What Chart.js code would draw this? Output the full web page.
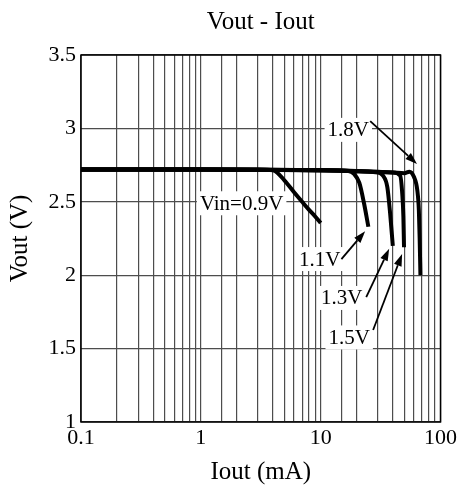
<!DOCTYPE html>
<html>
<head>
<meta charset="utf-8">
<title>Vout - Iout</title>
<script src="https://cdn.jsdelivr.net/npm/chart.js@4.4.1/dist/chart.umd.min.js"></script>
<style>
  html, body { margin: 0; padding: 0; background: #fff; }
  canvas { display: block; }
</style>
</head>
<body>
<canvas id="chart" width="460" height="488"></canvas>
<script>
// Iout (mA) and Vout (V), one pair per input voltage
const iout09 = [0.1, 1, 3, 4, 5, 6, 7, 8, 9, 10];
const vout09 = [2.72, 2.72, 2.72, 2.715, 2.645, 2.565, 2.5, 2.445, 2.4, 2.355];
const iout11 = [0.1, 1, 10, 17, 19, 21, 23, 25];
const vout11 = [2.72, 2.72, 2.715, 2.71, 2.69, 2.63, 2.49, 2.33];
const iout13 = [0.1, 1, 10, 30, 33, 36, 38, 40];
const vout13 = [2.72, 2.72, 2.715, 2.70, 2.68, 2.60, 2.42, 2.20];
const iout15 = [0.1, 1, 10, 40, 46, 48, 49, 49.6];
const vout15 = [2.72, 2.72, 2.715, 2.70, 2.68, 2.55, 2.40, 2.19];
const iout18 = [0.1, 1, 10, 40, 50, 55, 60, 64, 66, 67, 68];
const vout18 = [2.72, 2.72, 2.715, 2.70, 2.695, 2.705, 2.67, 2.58, 2.44, 2.25, 2.0];

const seriesNames = ['0.9V', '1.1V', '1.3V', '1.5V', '1.8V'];
const seriesX = [iout09, iout11, iout13, iout15, iout18];
const seriesY = [vout09, vout11, vout13, vout15, vout18];

// curve labels (mA, V)
const labelText = ['Vin=0.9V', '1.1V', '1.3V', '1.5V', '1.8V'];
const labelX = [2.19, 9.8, 14.96, 17.3, 17.0];
const labelY = [2.49, 2.11, 1.845, 1.576, 2.99];

// arrows from label to curve (mA, V)
const arrowFromX = [14.9, 24.0, 27.4, 25.9];
const arrowFromY = [2.11, 1.85, 1.627, 3.05];
const arrowToX = [23.5, 37.3, 47.8, 63.7];
const arrowToY = [2.30, 2.18, 2.144, 2.757];

const serif = '"Liberation Serif", "Times New Roman", serif';

const datasets = seriesNames.map((name, i) => ({
  label: name,
  data: seriesX[i].map((v, j) => ({ x: v, y: seriesY[i][j] })),
  borderColor: '#000',
  borderWidth: 4,
  pointRadius: 0,
  cubicInterpolationMode: 'monotone',
  fill: false
}));

function drawArrow(ctx, x1, y1, x2, y2) {
  const ang = Math.atan2(y2 - y1, x2 - x1);
  const len = 12, half = 4;
  const bx = x2 - len * Math.cos(ang), by = y2 - len * Math.sin(ang);
  ctx.beginPath();
  ctx.moveTo(x1, y1);
  ctx.lineTo(bx, by);
  ctx.stroke();
  ctx.beginPath();
  ctx.moveTo(x2, y2);
  ctx.lineTo(bx + half * Math.sin(ang), by - half * Math.cos(ang));
  ctx.lineTo(bx - half * Math.sin(ang), by + half * Math.cos(ang));
  ctx.closePath();
  ctx.fill();
}

// labels, arrows, frame and title
const notes = {
  id: 'notes',
  beforeDatasetsDraw(chart) {
    const { ctx, scales: { x, y } } = chart;
    ctx.save();
    ctx.font = '21px ' + serif;
    ctx.textAlign = 'center';
    ctx.textBaseline = 'middle';
    labelText.forEach((t, i) => {
      const px = x.getPixelForValue(labelX[i]);
      const py = y.getPixelForValue(labelY[i]);
      const w = ctx.measureText(t).width + 6;
      ctx.fillStyle = '#fff';
      ctx.fillRect(px - w / 2, py - 12, w, 24);
      ctx.fillStyle = '#000';
      ctx.fillText(t, px, py + 1);
    });
    ctx.strokeStyle = '#000';
    ctx.fillStyle = '#000';
    ctx.lineWidth = 1.8;
    arrowFromX.forEach((v, i) => {
      drawArrow(ctx,
        x.getPixelForValue(v), y.getPixelForValue(arrowFromY[i]),
        x.getPixelForValue(arrowToX[i]), y.getPixelForValue(arrowToY[i]));
    });
    ctx.restore();
  },
  afterDraw(chart) {
    const { ctx, chartArea: a } = chart;
    ctx.save();
    ctx.strokeStyle = '#000';
    ctx.lineWidth = 1.5;
    ctx.strokeRect(a.left, a.top, a.right - a.left, a.bottom - a.top);
    ctx.fillStyle = '#000';
    ctx.font = '25px ' + serif;
    ctx.textAlign = 'center';
    ctx.textBaseline = 'middle';
    ctx.fillText('Vout - Iout', (a.left + a.right) / 2, 22);
    ctx.restore();
  }
};

new Chart(document.getElementById('chart'), {
  type: 'line',
  data: { datasets },
  options: {
    responsive: false,
    animation: false,
    devicePixelRatio: 1,
    layout: { padding: { top: 55, right: 17, left: 0, bottom: 0 } },
    plugins: {
      legend: { display: false },
      tooltip: { enabled: false }
    },
    scales: {
      x: {
        type: 'logarithmic',
        min: 0.1,
        max: 100,
        afterFit: s => { s.height = 66; },
        grid: { color: '#4d4d4d', lineWidth: 1.2, drawTicks: false },
        border: { display: false },
        ticks: {
          autoSkip: false,
          maxRotation: 0,
          padding: 3,
          color: '#000',
          font: { family: serif, size: 22 },
          callback: v => {
            const l = Math.log10(v);
            return Math.abs(l - Math.round(l)) < 1e-6 ? String(v) : '';
          }
        },
        title: {
          display: true,
          text: 'Iout (mA)',
          color: '#000',
          font: { family: serif, size: 25 },
          padding: { top: 0, bottom: 1 }
        }
      },
      y: {
        min: 1,
        max: 3.5,
        afterFit: s => { s.width = 81; },
        grid: { color: '#4d4d4d', lineWidth: 1.2, drawTicks: false },
        border: { display: false },
        ticks: {
          stepSize: 0.5,
          padding: 5,
          color: '#000',
          font: { family: serif, size: 22 },
          callback: v => String(+v.toFixed(1))
        },
        title: {
          display: true,
          text: 'Vout (V)',
          color: '#000',
          font: { family: serif, size: 25 },
          padding: { top: 5, bottom: 0 }
        }
      }
    }
  },
  plugins: [notes]
});
</script>
</body>
</html>
